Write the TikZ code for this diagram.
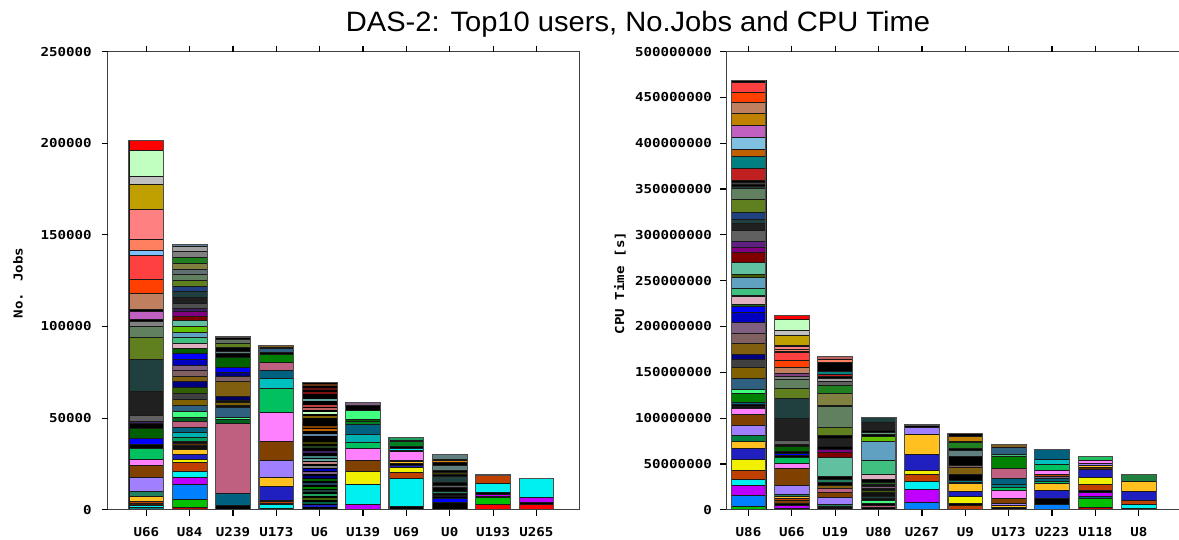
\documentclass[tikz,border=0pt]{standalone}
\usepackage{fontspec}
\newfontfamily\titlefont{Liberation Sans}[FakeStretch=1.04]
\newfontfamily\tickfont{DejaVu Sans Mono}[FakeStretch=1.15]
\tikzset{
  seg/.style={draw=black!90, line width=0.8pt},
  barframe/.style={draw=black!70, line width=1.1pt},
  axisline/.style={draw=black!75, line width=1.2pt},
  tickline/.style={draw=black, line width=1.2pt},
  ticklab/.style={font=\tickfont\bfseries\fontsize{12.3}{14}\selectfont, inner sep=0pt},
  titlestyle/.style={font=\titlefont\fontsize{28}{30}\selectfont, inner sep=0pt},
}
\newcommand\stackbar[3]{%
  \foreach \ya/\yb/\hc in {#3}{%
    \edef\mkcol{\noexpand\definecolor{segc}{HTML}{\hc}}\mkcol
    \path[seg, fill=segc] (#1-17.4,\ya) rectangle (#1+17.4,\yb);
  }%
  \path[barframe] (#1-17.4,#2) rectangle (#1+17.4,509.7);
}
\begin{document}
\begin{tikzpicture}[x=1pt,y=-1pt]
\useasboundingbox (0,0) rectangle (1179,540);
\fill[white] (0,0) rectangle (1179,540);

\node[titlestyle, anchor=base] (title) at (638,31.7) {DAS-2: Top10 users, No.Jobs and CPU Time};

% ---------------- left plot bars ----------------
\stackbar{146.3}{140.7}{140.7/150.3/FF0000, 150.3/176.7/C0FFC0, 176.7/184.3/C0C0C0, 184.3/209.7/C0A000, 209.7/239.7/FF8080, 239.7/250/FF8060, 250/255.7/80C0FF, 255.7/279.3/FF4040, 279.3/293/FF4000, 293/309.3/C08060, 309.3/311.7/000000, 311.7/319/C060C0, 319/321/000000, 321/326.7/808080, 326.7/337.3/608060, 337.3/359/608020, 359/391.7/204040, 391.7/415.7/202020, 415.7/421/606060, 421/423.7/402060, 423.7/428.3/000000, 428.3/438.3/006000, 438.3/444.3/0000FF, 444.3/448.3/000000, 448.3/459/00C060, 459/465/FF80FF, 465/477/804000, 477/491.7/A080FF, 491.7/496.3/208060, 496.3/501.7/FFC020, 501.7/503.7/C04000, 503.7/505.7/402000, 505.7/507.7/00F0F0, 507.7/509.7/008080}

\stackbar{189.65}{244.3}{244.3/246.7/6080A0, 246.7/251.7/A0A0A0, 251.7/257.7/808080, 257.7/263.7/208020, 263.7/269.7/808040, 269.7/274.3/607070, 274.3/280.7/608060, 280.7/286.7/608020, 286.7/291.7/204080, 291.7/297.3/204040, 297.3/303.3/202020, 303.3/308.3/505050, 308.3/311.7/402060, 311.7/316.7/800080, 316.7/320.3/800000, 320.3/326.3/60C0A0, 326.3/332.3/60C000, 332.3/337.3/60A0C0, 337.3/343/40C080, 343/348/E0B0C0, 348/353.7/006000, 353.7/359/0000FF, 359/365/0000C0, 365/370.7/806080, 370.7/376.7/806060, 376.7/381.7/806010, 381.7/387.7/000080, 387.7/393.7/306000, 393.7/399.7/404040, 399.7/405/806000, 405/411/306080, 411/417/40FF80, 417/421.7/006020, 421.7/427.7/C06080, 427.7/432.7/006080, 432.7/437.3/00B0B0, 437.3/441/00A060, 441/443.3/101010, 443.3/445.7/603000, 445.7/449.7/101010, 449.7/454/FFC020, 454/459/2020C0, 459/462.3/F0F000, 462.3/471/C04000, 471/477.3/00F0F0, 477.3/484.3/C000FF, 484.3/499/0080FF, 499/507/00C000, 507/509.7/C00000}

\stackbar{233.0}{337}{337/339.7/000000, 339.7/343.3/607060, 343.3/347.7/608020, 347.7/351.7/000000, 351.7/353.7/608080, 353.7/357/000000, 357/367.3/006000, 367.3/372/0000FF, 372/376.3/000080, 376.3/381.7/806060, 381.7/396.3/806010, 396.3/400.7/000060, 400.7/402.7/101010, 402.7/405/806000, 405/407.7/101010, 407.7/417.7/306080, 417.7/419.3/40FF80, 419.3/423.7/006020, 423.7/493/C06080, 493/505.7/006080, 505.7/509.7/000000}

\stackbar{276.35}{345.3}{345.3/347.3/806020, 347.3/348.7/000000, 348.7/352.7/306080, 352.7/354.7/000000, 354.7/362.7/008000, 362.7/370/C06080, 370/378.7/006080, 378.7/388/00C0C0, 388/412.3/00C060, 412.3/441/FF80FF, 441/460.7/804000, 460.7/477.3/A080FF, 477.3/486.7/FFC020, 486.7/500/2020C0, 500/501.3/000000, 501.3/503.3/C04000, 503.3/504.7/000000, 504.7/508/00F0F0, 508/509.7/008080}

% U6: black with thin coloured stripes
\fill[black] (319.7-17.4,382.7) rectangle (319.7+17.4,509.7);
\foreach \yy/\hc in {385.3/603010, 388.7/601010, 392.7/801010, 400/60A0A0, 406/C04040, 409.3/C06060, 413.3/C0FFC0, 416.7/806000, 426.7/804000, 430/C06000, 434.7/6080A0, 443.3/404000, 446.7/204020, 452/402060, 456.7/408080, 460/60A0A0, 463.3/C08080, 466.7/808080, 470/0000C0, 472.7/806080, 476.7/000080, 480/006000, 484/204060, 488/008000, 491.3/204040, 495.3/20A060, 498.7/406000, 502.7/006040, 506/2020C0}{%
  \edef\mkcol{\noexpand\definecolor{segc}{HTML}{\hc}}\mkcol
  \fill[segc] (319.7-16.8,\yy-0.9) rectangle (319.7+16.8,\yy+0.9);
}
\path[barframe] (319.7-17.4,382.7) rectangle (319.7+17.4,509.7);

\stackbar{363.05}{402.3}{402.3/405.7/806080, 405.7/410/000000, 410/419.3/40FF80, 419.3/421.7/006000, 421.7/424.3/008020, 424.3/434/006080, 434/442.7/00B0B0, 442.7/448.3/00C060, 448.3/460.3/FF80FF, 460.3/471.3/804000, 471.3/484.3/F0F000, 484.3/504.7/00F0F0, 504.7/509.7/C000FF}

\stackbar{406.4}{437.7}{437.7/440/20A060, 440/441.7/000000, 441.7/446.7/008020, 446.7/448.7/000000, 448.7/450/00F0F0, 450/451.3/000000, 451.3/460/FF80FF, 460/461/000000, 461/463.3/FFC020, 463.3/465/000000, 465/467.7/2020C0, 467.7/472.3/F0F000, 472.3/478.7/C04000, 478.7/506.7/00F0F0, 506.7/509.7/000000}

\stackbar{449.75}{454.3}{454.3/459/608080, 459/460/000000, 460/462.3/E08000, 462.3/465.7/000000, 465.7/470.7/608080, 470.7/472.7/000000, 472.7/474/404000, 474/476/000000, 476/482.7/204040, 482.7/485/000000, 485/487.3/606060, 487.3/491.3/000000, 491.3/493.3/208060, 493.3/495/000000, 495/496.7/E0B0C0, 496.7/498.3/000000, 498.3/502.3/0000FF, 502.3/509.7/000000}

\stackbar{493.1}{475}{475/483.3/C04000, 483.3/492.7/00F0F0, 492.7/494.3/000000, 494.3/496.3/C000FF, 496.3/497/000000, 497/504.3/00C000, 504.3/509.7/FF0000}

\stackbar{536.45}{478.3}{478.3/497.7/00F0F0, 497.7/502.3/C000FF, 502.3/504/000000, 504/509.7/FF0000}

% ---------------- right plot bars ----------------
\stackbar{748.5}{80.7}{80.7/82.3/000000, 82.3/92.7/FF4040, 92.7/102.3/FF4000, 102.3/113/C08060, 113/125/C08000, 125/137/C060C0, 137/149/80C0E0, 149/156.3/C06000, 156.3/168.7/008080, 168.7/180.7/C02020, 180.7/182.3/000000, 182.3/184.3/404040, 184.3/186.3/000000, 186.3/188.3/204040, 188.3/199.7/608060, 199.7/212.7/608020, 212.7/219/204080, 219/223.7/204040, 223.7/230.3/202020, 230.3/241.7/606060, 241.7/247.3/602080, 247.3/252.7/800080, 252.7/262.7/800000, 262.7/274.3/60C0A0, 274.3/277/406000, 277/288.7/60A0C0, 288.7/295.7/40C080, 295.7/296.7/000000, 296.7/304.3/E0B0C0, 304.3/306.7/206020, 306.7/312.3/0000FF, 312.3/322.7/0000C0, 322.7/333.3/806080, 333.3/343.3/806060, 343.3/354/806010, 354/359/000080, 359/367.7/404040, 367.7/378.3/806000, 378.3/389/306080, 389/393.7/40FF80, 393.7/402.3/008000, 402.3/404/006080, 404/406/000000, 406/408.7/101010, 408.7/414.3/FF80FF, 414.3/425/804000, 425/435/A080FF, 435/441/008040, 441/448/FFC020, 448/459.3/2020C0, 459.3/470/F0F000, 470/479.3/C04000, 479.3/485.7/00F0F0, 485.7/495.3/C000FF, 495.3/506.3/0080FF, 506.3/509.7/00C000}

\stackbar{791.87}{315.3}{315.3/319.3/FF0000, 319.3/330/C0FFC0, 330/335/C0C0C0, 335/345.3/C0A000, 345.3/346.7/000000, 346.7/349.3/FF8080, 349.3/351/FF8060, 351/352.7/804020, 352.7/360/FF4040, 360/367.7/FF4000, 367.7/373.3/C08060, 373.3/376/804080, 376/379.3/808080, 379.3/388/608060, 388/398.7/608020, 398.7/418/204040, 418/440.7/202020, 440.7/444.3/606060, 444.3/446/101010, 446/451.7/006000, 451.7/453.3/000000, 453.3/455.7/0000FF, 455.7/457.3/000000, 457.3/463.7/00C060, 463.7/468.3/FF80FF, 468.3/485.3/804000, 485.3/494.7/A080FF, 494.7/496.7/208060, 496.7/498.7/FFC020, 498.7/500.7/C04000, 500.7/503.3/804000, 503.3/505.3/000000, 505.3/508.3/C000FF, 508.3/509.7/101010}

\stackbar{835.24}{356.7}{356.7/359/C06060, 359/362/FF8060, 362/371.7/000000, 371.7/374/008080, 374/376.7/C02020, 376.7/378.7/000000, 378.7/381.7/A0A0A0, 381.7/385/606060, 385/393.3/208020, 393.3/405/808040, 405/406.7/000000, 406.7/427.3/608060, 427.3/435/608020, 435/438.3/000000, 438.3/446.7/202020, 446.7/449.3/000000, 449.3/452.3/800080, 452.3/457.7/800000, 457.7/476.7/60C0A0, 476.7/479.3/000000, 479.3/482/208060, 482/485/000000, 485/488.3/806010, 488.3/492.7/C06080, 492.7/497.3/804000, 497.3/504/A080FF, 504/506.7/208060, 506.7/509.7/101010}

\stackbar{878.61}{417.7}{417.7/422.7/204040, 422.7/430/202020, 430/432/000000, 432/434.7/60A080, 434.7/436/000000, 436/441/60C000, 441/460/60A0C0, 460/474/40C080, 474/479.3/E0B0C0, 479.3/482/000000, 482/484/206020, 484/486/101010, 486/488/806080, 488/490/101010, 490/492.7/406000, 492.7/496/101010, 496/498/204040, 498/500.7/101010, 500.7/503.3/40FF80, 503.3/505.3/000000, 505.3/507.3/C06080, 507.3/509.7/000000}

\stackbar{921.98}{425}{425/427.3/000000, 427.3/434/A080FF, 434/454.3/FFC020, 454.3/470/2020C0, 470/474.7/F0F000, 474.7/481.7/C04000, 481.7/489.3/00F0F0, 489.3/502.7/C000FF, 502.7/509.7/0080FF}

\stackbar{965.35}{433.3}{433.3/436/000000, 436/441/C08000, 441/442.7/000000, 442.7/448.3/208020, 448.3/450/000000, 450/456.7/608080, 456.7/465.3/000000, 465.3/467.3/806060, 467.3/474.7/806010, 474.7/480/000000, 480/482/008080, 482/483.3/000000, 483.3/491.7/FFC020, 491.7/496.7/2020C0, 496.7/503.3/F0F000, 503.3/505.3/000000, 505.3/509.7/C04000}

\stackbar{1008.72}{444.3}{444.3/447.3/806020, 447.3/454/306080, 454/456.7/40C080, 456.7/468.7/008000, 468.7/478.7/C06080, 478.7/484.7/006080, 484.7/487.3/008080, 487.3/490.7/00C060, 490.7/498.7/FF80FF, 498.7/503.3/804000, 503.3/505.3/A080FF, 505.3/507.3/FFC020, 507.3/509.7/101010}

\stackbar{1052.09}{449.3}{449.3/459.3/006080, 459.3/464/00C0C0, 464/470/00C060, 470/474.7/FF80FF, 474.7/476.7/C04000, 476.7/478.7/806080, 478.7/481.3/006080, 481.3/483.3/00C060, 483.3/490.7/FFC020, 490.7/498.7/2020C0, 498.7/504/000000, 504/509.7/0080FF}

\stackbar{1095.46}{456.3}{456.3/460.7/20C060, 460.7/463.3/FF80FF, 463.3/465.3/A080FF, 465.3/467.3/FFC020, 467.3/469.3/603000, 469.3/477.3/2020C0, 477.3/484.7/F0F000, 484.7/490.7/C04000, 490.7/492.7/000000, 492.7/496.7/C000FF, 496.7/498.7/006080, 498.7/507.3/00C000, 507.3/509.7/C00000}

\stackbar{1138.83}{474.7}{474.7/481.3/208040, 481.3/491.7/FFC020, 491.7/500/2020C0, 500/504.7/C04000, 504.7/508/00F0F0, 508/509.7/101010}

% ---------------- frames ----------------
\draw[axisline] (107.5,51.7) rectangle (579.8,509.7);
\draw[axisline] (1179,51.7) -- (726.4,51.7) -- (726.4,509.7) -- (1179,509.7);

% left y ticks
\foreach \i/\lab in {0/0,1/50000,2/100000,3/150000,4/200000,5/250000}{
  \draw[tickline] (101.5,509.7-\i*91.6) -- (107.5,509.7-\i*91.6);
  \node[ticklab, anchor=east] (lyl\i) at (91.8,509.7-\i*91.6) {\lab};
}
% right y ticks
\foreach \i/\lab in {0/0,1/50000000,2/100000000,3/150000000,4/200000000,5/250000000,6/300000000,7/350000000,8/400000000,9/450000000,10/500000000}{
  \draw[tickline] (720.4,509.7-\i*45.8) -- (726.4,509.7-\i*45.8);
  \node[ticklab, anchor=east] (ryl\i) at (712,509.7-\i*45.8) {\lab};
}
% left x ticks and labels
\foreach \i/\lab in {0/U66,1/U84,2/U239,3/U173,4/U6,5/U139,6/U69,7/U0,8/U193,9/U265}{
  \pgfmathsetmacro\cx{146.3+43.35*\i}
  \draw[tickline] (\cx,45.7) -- (\cx,51.7);
  \draw[tickline] (\cx,509.7) -- (\cx,515.7);
  \node[ticklab] (lxl\i) at (\cx,532.2) {\lab};
}
% right x ticks and labels
\foreach \i/\lab in {0/U86,1/U66,2/U19,3/U80,4/U267,5/U9,6/U173,7/U223,8/U118,9/U8}{
  \pgfmathsetmacro\cx{748.5+43.37*\i}
  \draw[tickline] (\cx,45.7) -- (\cx,51.7);
  \draw[tickline] (\cx,509.7) -- (\cx,515.7);
  \node[ticklab] (rxl\i) at (\cx,532.2) {\lab};
}

\node[ticklab, rotate=90] (ylabL) at (18,283) {No. Jobs};
\node[ticklab, rotate=90] (ylabR) at (620,283) {CPU Time [s]};
\end{tikzpicture}
\end{document}
